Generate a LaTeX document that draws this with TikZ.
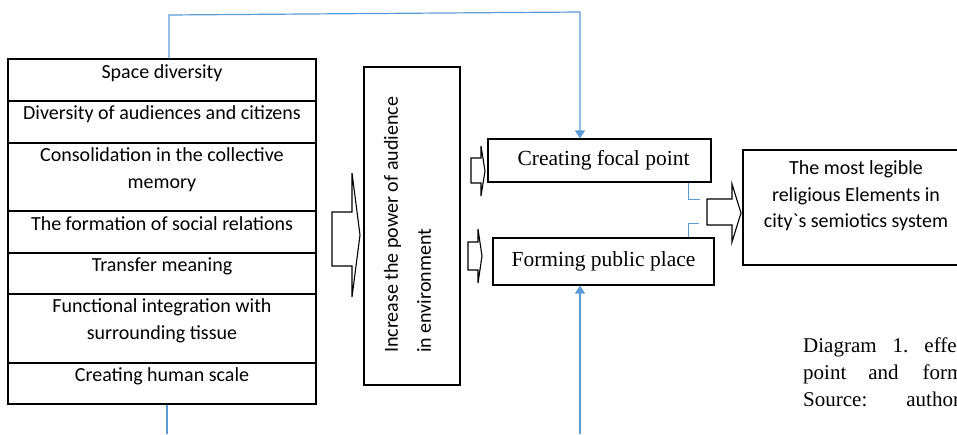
\documentclass[tikz,border=0pt]{standalone}
\usepackage{fontspec}
\setmainfont{Carlito}
\newfontfamily\timesf{Liberation Serif}
\usetikzlibrary{calc,arrows.meta}
\definecolor{lineblue}{RGB}{91,155,213}
\newcommand{\gravechar}{\XeTeXglyph\XeTeXcharglyph"0060\relax}
\begin{document}
\begin{tikzpicture}[x=1pt,y=-1pt,
  box/.style={draw=black,line width=1.1pt,inner sep=0pt},
  celltext/.style={inner sep=0pt,align=center,font=\fontsize{20}{26.5}\selectfont},
  serifbox/.style={box,font=\timesf\fontsize{21.5}{25}\selectfont},
  captext/.style={inner sep=0pt,font=\timesf\fontsize{21}{25}\selectfont},
  blockarrow/.style={draw=black,line width=1.1pt,fill=white,line join=miter},
  bluelink/.style={draw=lineblue,line width=1.2pt},
  bluearrow/.style={bluelink,-{Triangle[length=8pt,width=10pt]}}
]
\useasboundingbox (0,0) rectangle (957,434);
\begin{scope}
\clip (0,0) rectangle (957,434);

% left column of cells
\node[box,minimum width=308pt,minimum height=42pt] (r1) at (162,80) {};
\node[box,minimum width=308pt,minimum height=42pt] (r2) at (162,122) {};
\node[box,minimum width=308pt,minimum height=68pt] (r3) at (162,177) {};
\node[box,minimum width=308pt,minimum height=42pt] (r4) at (162,232) {};
\node[box,minimum width=308pt,minimum height=41pt] (r5) at (162,273.5) {};
\node[box,minimum width=308pt,minimum height=69pt] (r6) at (162,328.5) {};
\node[box,minimum width=308pt,minimum height=41pt] (r7) at (162,383.5) {};

\node[celltext] (t1) at (162,73) {Space diversity};
\node[celltext] (t2) at (162,114) {Diversity of audiences and citizens};
\node[celltext] (t3) at (162,169.5) {Consolidation in the collective\\memory};
\node[celltext] (t4) at (162,224) {The formation of social relations};
\node[celltext] (t5) at (162,266) {Transfer meaning};
\node[celltext] (t6) at (162,321) {Functional integration with\\surrounding tissue};
\node[celltext] (t7) at (162,376) {Creating human scale};

% middle box
\node[box,minimum width=96pt,minimum height=318pt] (mid) at (412,226) {};
\node[inner sep=0pt,rotate=90,anchor=west,align=left,font=\fontsize{20}{33}\selectfont] (midtext) at (407.5,353) {Increase the power of audience\\in environment};

% right-side boxes
\node[serifbox,minimum width=223pt,minimum height=43pt] (focal) at (599.5,160.5) {\hspace*{8pt}Creating focal point};
\node[serifbox,minimum width=221pt,minimum height=47pt] (forming) at (603.5,261.5) {Forming public place};
\node[box,minimum width=237pt,minimum height=115pt] (legible) at (861.5,207.5) {};
\node[celltext] (legtext) at (856,196) {The most legible\\religious Elements in\\city\gravechar s semiotics system};

% block arrows
\draw[blockarrow] (332,212) -- (352,212) -- (352,173) -- (360,235) -- (352,297) -- (352,266) -- (332,266) -- cycle;
\draw[blockarrow] (471,158) -- (481,158) -- (481,146) -- (485,171) -- (481,196) -- (481,183) -- (471,183) -- cycle;
\draw[blockarrow] (468,242) -- (478,242) -- (478,229) -- (482,256) -- (478,283) -- (478,270) -- (468,270) -- cycle;
\draw[blockarrow] (707,199) -- (732,199) -- (732,184) -- (741,213) -- (732,242) -- (732,225) -- (707,225) -- cycle;

% blue connectors
\coordinate (topL) at (169,15);
\coordinate (topR) at (580,12);
\draw[bluearrow] (r1.north -| topL) -- (topL) -- (topR) -- (topR |- focal.north);
\coordinate (botL) at (167,434);
\draw[bluelink] (r7.south -| botL) -- (botL);
\coordinate (botR) at (580,434);
\draw[bluearrow] (botR) -- (botR |- forming.south);
\coordinate (k1) at (688,199);
\coordinate (k1e) at (700,199);
\draw[bluelink,line width=0.9pt] (focal.south -| k1) -- (k1) -- (k1e);
\coordinate (k2) at (688,223);
\coordinate (k2e) at (699,223);
\draw[bluelink,line width=0.9pt] (forming.north -| k2) -- (k2) -- (k2e);

% caption
\node[captext,anchor=base west] (cap1) at (803,352) {Diagram\hspace{16pt}1.\hspace{16pt}effe};
\node[captext,anchor=base west] (cap2) at (803,379) {point\hspace{22pt}and\hspace{24pt}form};
\node[captext,anchor=base west] (cap3) at (803,406) {Source:\hspace{39pt}author};
\end{scope}
\end{tikzpicture}
\end{document}
